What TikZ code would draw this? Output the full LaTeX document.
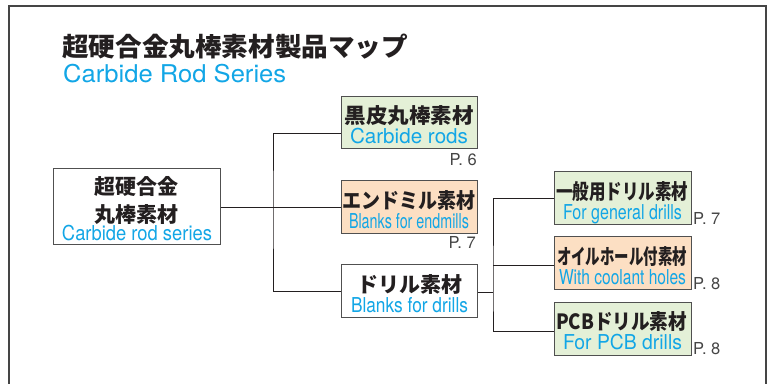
\documentclass[tikz,border=0pt]{standalone}
\usepackage{fontspec}
\usepackage{graphicx}
\setmainfont{TeX Gyre Heros}
\newfontfamily\jp{Noto Sans CJK JP}
\definecolor{ink}{HTML}{231F20}
\definecolor{cyanT}{HTML}{12A6E6}
\definecolor{greenF}{HTML}{E4F0D7}
\definecolor{orangeF}{HTML}{FCDFC3}
\definecolor{edge}{HTML}{505050}
\definecolor{pgrey}{HTML}{454545}
\newcommand\sqz[2]{\sbox0{#2}\resizebox{#1pt}{\ht0}{#2}}
\tikzset{
  box/.style={draw=edge, line width=1.3pt, inner sep=0pt, anchor=north west},
  jpt/.style={anchor=base, inner sep=0pt, text=ink, font=\jp\bfseries\fontsize{21}{21}\selectfont},
  ent/.style={anchor=base, inner sep=0pt, text=cyanT, font=\fontsize{20.5}{20.5}\selectfont},
  pg/.style={inner sep=0pt, text=pgrey, font=\fontsize{16.5}{16.5}\selectfont},
  conn/.style={draw=ink, line width=0.9pt},
}
\begin{document}
\begin{tikzpicture}[x=1pt,y=-1pt]
\useasboundingbox (0,0) rectangle (773,383);
% frame
\draw[draw=pgrey, line width=1.3pt] (9,390) -- (9,6) -- (766,6) -- (766,390);
% title
\node[anchor=base west, inner sep=0pt, text=ink, font=\jp\bfseries\fontsize{26}{26}\selectfont] (title) at (62,56) {\sqz{346}{超硬合金丸棒素材製品マップ}};
\node[anchor=base west, inner sep=0pt, text=cyanT, font=\fontsize{24.5}{24.5}\selectfont] (subtitle) at (63,82) {\sqz{223}{Carbide Rod Series}};
% boxes
\node[box, fill=white, minimum width=167pt, minimum height=76pt] (root) at (53,168) {};
\node[box, fill=greenF, minimum width=136pt, minimum height=52pt] (kuro) at (341,96) {};
\node[box, fill=orangeF, minimum width=136pt, minimum height=53pt] (endm) at (341,180) {};
\node[box, fill=white, minimum width=136pt, minimum height=53pt] (drill) at (341,264) {};
\node[box, fill=greenF, minimum width=137pt, minimum height=53pt] (gen) at (554,171) {};
\node[box, fill=orangeF, minimum width=137pt, minimum height=53pt] (oil) at (554,236) {};
\node[box, fill=greenF, minimum width=137pt, minimum height=53pt] (pcb) at (554,302) {};
% texts
\node[jpt] (r1) at (136.5,194.5) {\sqz{84}{超硬合金}};
\node[jpt] (r2) at (136.5,222) {\sqz{84}{丸棒素材}};
\node[ent] (r3) at (137,240.5) {\sqz{150}{Carbide rod series}};
\node[jpt] (k1) at (409,123.5) {\sqz{129}{黒皮丸棒素材}};
\node[ent] (k2) at (409,143) {\sqz{118}{Carbide rods}};
\node[jpt] (e1) at (409,208.5) {\sqz{133}{エンドミル素材}};
\node[ent] (e2) at (409,228) {\sqz{120}{Blanks for endmills}};
\node[jpt] (d1) at (409.5,292.5) {\sqz{105}{ドリル素材}};
\node[ent] (d2) at (409.5,312) {\sqz{117}{Blanks for drills}};
\node[jpt] (g1) at (622,199) {\sqz{132}{一般用ドリル素材}};
\node[ent] (g2) at (622.5,219) {\sqz{119}{For general drills}};
\node[jpt] (o1) at (622,264) {\sqz{130}{オイルホール付素材}};
\node[ent] (o2) at (622.5,284) {\sqz{127}{With coolant holes}};
\node[jpt] (p1) at (621.5,329) {\sqz{131}{PCBドリル素材}};
\node[ent] (p2) at (622.5,349) {\sqz{119}{For PCB drills}};
% page refs
\node[pg, anchor=base east] (pk) at (477,165) {P. 6};
\node[pg, anchor=base east] (pe) at (476,248.5) {P. 7};
\node[pg, anchor=base west] (pgn) at (693,224.5) {P. 7};
\node[pg, anchor=base west] (po) at (693,289.5) {P. 8};
\node[pg, anchor=base west] (pp) at (693,354.5) {P. 8};
% connectors
\coordinate (j1) at (273,207);
\coordinate (j2) at (493,292);
\draw[conn] (root.east |- j1) -- (endm.west |- j1);
\draw[conn] ([yshift=-11pt]kuro.west) -| (j1) |- (drill.west |- 0,291);
\draw[conn] (drill.east |- j2) -- (j2);
\draw[conn] (gen.west |- 0,198) -| (j2) |- (pcb.west |- 0,331);
\draw[conn] (oil.west |- 0,265) -- (j2 |- 0,265);
\end{tikzpicture}
\end{document}
